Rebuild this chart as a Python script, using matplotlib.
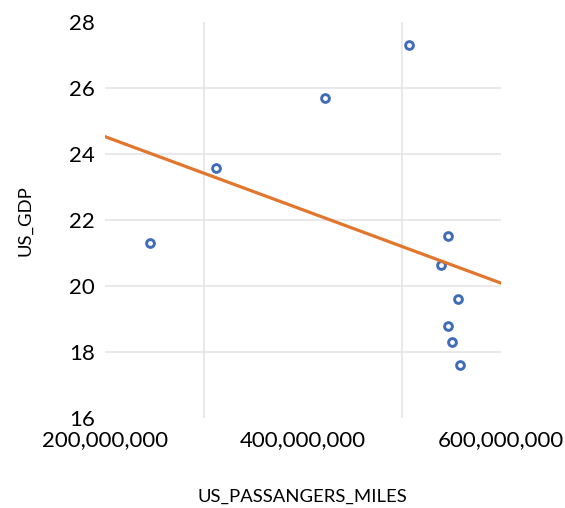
import numpy as np
import matplotlib
matplotlib.use('Agg')
import matplotlib.pyplot as plt
from matplotlib.ticker import FuncFormatter

# data
passenger_miles = [246e6, 312e6, 422.5e6, 507.5e6, 546.7e6, 539.6e6,
                   557.2e6, 546.7e6, 551.1e6, 558.6e6]
us_gdp = [21.30, 23.58, 25.71, 27.32, 21.53, 20.65, 19.60, 18.77, 18.29, 17.60]

x_ticks = [200e6, 400e6, 600e6]
x_grid = [300e6, 500e6]
y_ticks = [16, 18, 20, 22, 24, 26, 28]

plt.rcParams['font.family'] = ['Lato', 'DejaVu Sans']

fig = plt.figure(figsize=(5.65, 5.08), dpi=100)
ax = fig.add_axes([0.1855, 0.1778, 0.701, 0.778])

# linear trendline over the whole axis
slope, icept = np.polyfit(passenger_miles, us_gdp, 1)
xl = np.array([x_ticks[0], x_ticks[-1]])
ax.plot(xl, slope*xl + icept, color='#E1772E', lw=2.3, zorder=4)

ax.plot(passenger_miles, us_gdp, ls='none', marker='o', ms=5.6,
        mfc='white', mec='#3F6DB8', mew=2.1, zorder=3)

ax.set_xlim(x_ticks[0], x_ticks[-1])
ax.set_ylim(y_ticks[0], y_ticks[-1])
ax.set_xticks(x_ticks)
ax.set_xticks(x_grid, minor=True)
ax.set_yticks(y_ticks)
ax.xaxis.set_major_formatter(FuncFormatter(lambda v, p: f'{v:,.0f}'))

ax.grid(axis='y', color='#E3E3E3', lw=1.1)
ax.grid(axis='x', which='minor', color='#E3E3E3', lw=1.1)
ax.set_axisbelow(True)
glines = ax.yaxis.get_gridlines()
glines[0].set_visible(False)
glines[-1].set_visible(False)

for s in ax.spines.values():
    s.set_visible(False)
ax.tick_params(axis='both', which='both', length=0, labelsize=16, colors='black')
ax.tick_params(axis='x', pad=9)
ax.tick_params(axis='y', pad=7)

ax.set_xlabel('US_PASSANGERS_MILES', fontsize=13.3, labelpad=28)
ax.set_ylabel('US_GDP', fontsize=13.3, labelpad=26)

fig.savefig('out.png', dpi=100)
